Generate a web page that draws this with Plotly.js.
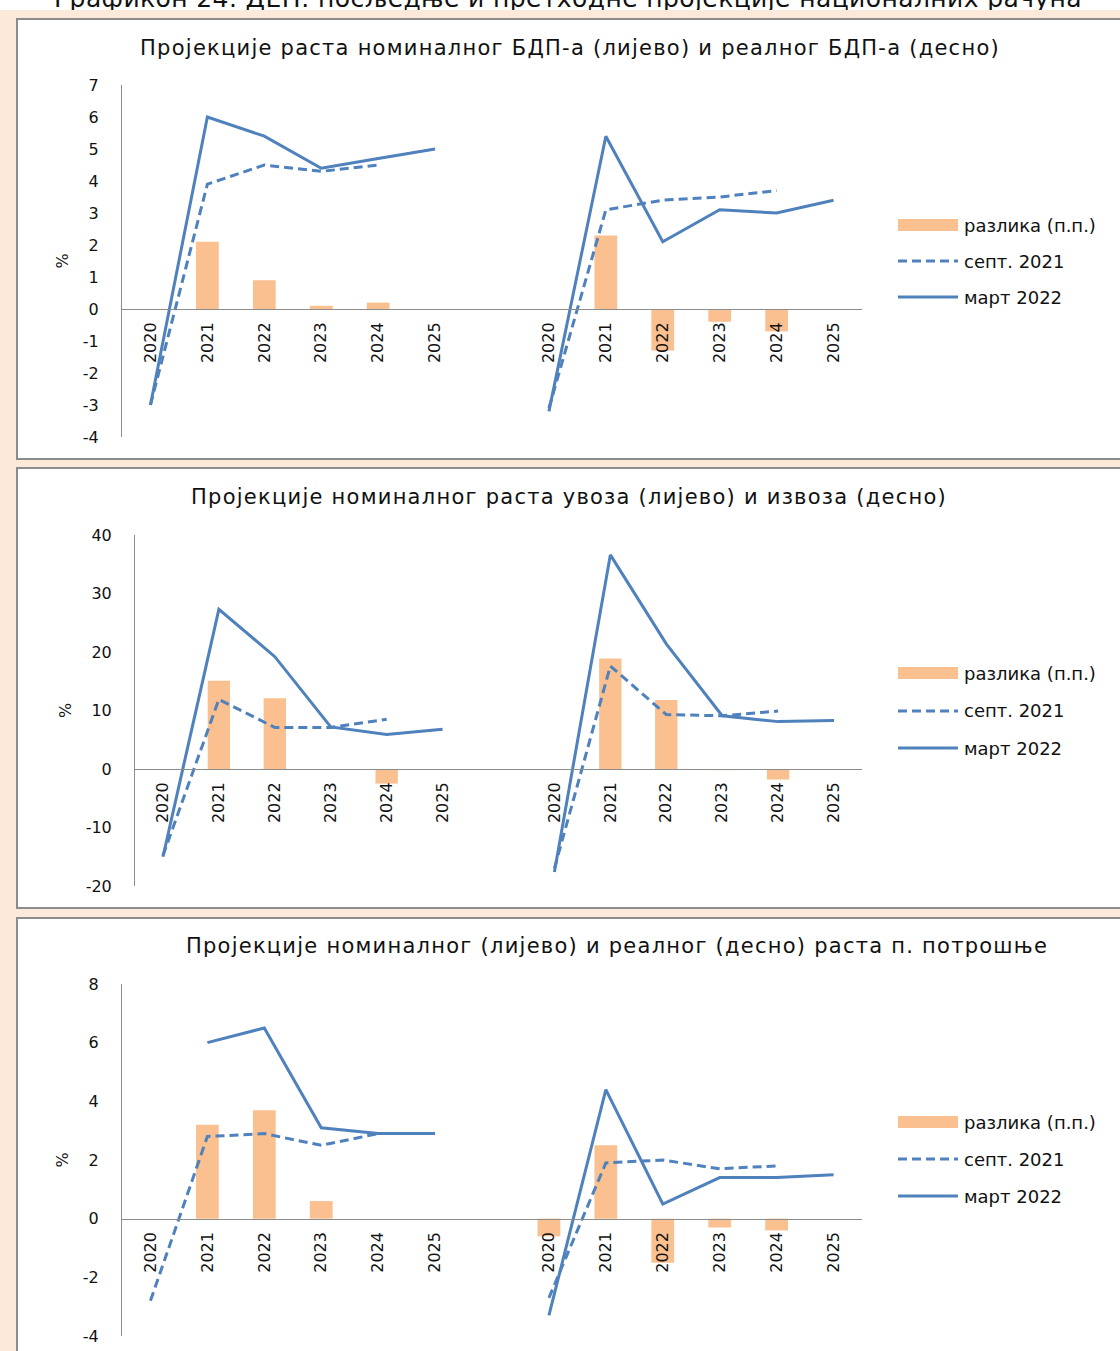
<!DOCTYPE html>
<html><head><meta charset="utf-8">
<script src="https://cdn.plot.ly/plotly-3.0.1.min.js"></script>
<style>
html,body{margin:0;padding:0;background:#fff;width:1120px;height:1351px;overflow:hidden;position:relative;font-family:"DejaVu Sans",sans-serif;}
#top{position:absolute;left:0;top:-14px;width:1136px;text-align:center;font-size:25px;line-height:25px;letter-spacing:0.4px;white-space:nowrap;color:#111;}
#bg{position:absolute;left:0;top:10px;width:1120px;height:1341px;background:#fde9d9;}
.panel{position:absolute;left:16px;width:1110px;background:#fff;border:2px solid #8c8c8c;box-sizing:border-box;overflow:hidden;}
.gtitle{letter-spacing:1.25px;}
</style></head>
<body>
<div id="top">Графикон 24. ДЕП: посљедње и претходне пројекције националних рачуна</div>
<div id="bg"></div>
<div class="panel" style="top:18px;height:442px;"><div id="p1"></div></div>
<div class="panel" style="top:467px;height:442px;"><div id="p2"></div></div>
<div class="panel" style="top:917px;height:440px;"><div id="p3"></div></div>
<script>
// ---------- data ----------
const years = ['2020','2021','2022','2023','2024','2025'];
const legendNames = ['разлика (п.п.)', 'септ. 2021', 'март 2022'];

// Panel 1: nominal GDP (left), real GDP (right)
const gdpNomDiff = [null, 2.1, 0.9, 0.1, 0.2, null];
const gdpNomSep  = [-3.0, 3.9, 4.5, 4.3, 4.5, null];
const gdpNomMar  = [-3.0, 6.0, 5.4, 4.4, 4.7, 5.0];
const gdpRealDiff = [null, 2.3, -1.3, -0.4, -0.7, null];
const gdpRealSep  = [-3.1, 3.1, 3.4, 3.5, 3.7, null];
const gdpRealMar  = [-3.2, 5.4, 2.1, 3.1, 3.0, 3.4];

// Panel 2: imports (left), exports (right)
const impDiff = [null, 15.1, 12.1, 0.0, -2.5, null];
const impSep  = [-14.8, 11.9, 7.1, 7.1, 8.5, null];
const impMar  = [-15.0, 27.3, 19.2, 7.2, 5.9, 6.8];
const expDiff = [null, 18.9, 11.8, -0.2, -1.8, null];
const expSep  = [-17.0, 17.6, 9.3, 9.1, 9.9, null];
const expMar  = [-17.6, 36.6, 21.4, 9.1, 8.1, 8.3];

// Panel 3: nominal (left), real (right) private consumption
const consNomDiff = [null, 3.2, 3.7, 0.6, 0.0, null];
const consNomSep  = [-2.8, 2.8, 2.9, 2.5, 2.9, null];
const consNomMar  = [null, 6.0, 6.5, 3.1, 2.9, 2.9];
const consRealDiff = [-0.6, 2.5, -1.5, -0.3, -0.4, null];
const consRealSep  = [-2.7, 1.9, 2.0, 1.7, 1.8, null];
const consRealMar  = [-3.3, 4.4, 0.5, 1.4, 1.4, 1.5];

const titles = [
  'Пројекције раста номиналног БДП-а (лијево) и реалног БДП-а (десно)',
  'Пројекције номиналног раста увоза (лијево) и извоза (десно)',
  'Пројекције номиналног (лијево) и реалног (десно) раста п. потрошње'
];

// ---------- styles ----------
const BAR = '#fac08f', BLUE = '#4f81bd', AX = '#8c8c8c';
const FONT = '"DejaVu Sans", Verdana, sans-serif';
const DASH = '9px,5px';

function build(id, o) {
  const W = 1106, H = o.H;
  const leftIdx = years.map((_, i) => i);
  const rightIdx = years.map((_, i) => i + years.length + 1);
  const gapIdx = [years.length];
  const xAll = leftIdx.concat(gapIdx, rightIdx);
  const plotW = W - o.l - o.r, plotH = H - o.t - o.b;
  const px = p => (p - o.ox - o.l) / plotW;
  const py = p => (o.oy + o.t + plotH - p) / plotH;

  const yTicks = [];
  for (let v = o.yr[0]; v <= o.yr[1]; v += o.dtick) yTicks.push(v);

  const traces = [
    {type:'bar', x: leftIdx.concat(rightIdx), y: o.diffL.concat(o.diffR),
     marker:{color:BAR}, showlegend:false, hoverinfo:'skip'},
    {type:'scatter', mode:'lines', x:xAll, y:o.sepL.concat([null], o.sepR), connectgaps:false,
     line:{color:BLUE, width:3, dash:DASH}, showlegend:false},
    {type:'scatter', mode:'lines', x:xAll, y:o.marL.concat([null], o.marR), connectgaps:false,
     line:{color:BLUE, width:3}, showlegend:false}
  ];

  // manual legend
  const shapes = [], ann = [];
  const lx0 = px(898), lx1 = px(958), tx = px(962);
  shapes.push({type:'rect', xref:'paper', yref:'paper', x0:lx0, x1:lx1,
    y0:py(o.legY[0]+6), y1:py(o.legY[0]-6), fillcolor:BAR, line:{width:0}});
  shapes.push({type:'line', xref:'paper', yref:'paper', x0:lx0, x1:lx1,
    y0:py(o.legY[1]), y1:py(o.legY[1]), line:{color:BLUE, width:3, dash:DASH}});
  shapes.push({type:'line', xref:'paper', yref:'paper', x0:lx0, x1:lx1,
    y0:py(o.legY[2]), y1:py(o.legY[2]), line:{color:BLUE, width:3}});
  legendNames.forEach((n, i) => ann.push({xref:'paper', yref:'paper', x:tx, y:py(o.legY[i]),
    xanchor:'left', yanchor:'middle', text:n, showarrow:false, font:{family:FONT, size:18, color:'#111'}}));

  const layout = {
    width: W, height: H, margin:{l:o.l, r:o.r, t:o.t, b:o.b, pad:0},
    paper_bgcolor:'#fff', plot_bgcolor:'rgba(0,0,0,0)',
    font:{family:FONT, size:16, color:'#111'},
    showlegend:false, bargap:0.6,
    title:{text:o.title, xref:'container', yref:'container', x:(o.tcx - o.ox)/W, y:1-(o.tcy - o.oy)/H,
           xanchor:'center', yanchor:'middle', font:{family:FONT, size:21, color:'#111'}},
    xaxis:{type:'linear', range:[-0.5, xAll.length - 0.5], tickmode:'array',
           tickvals: leftIdx.concat(rightIdx), ticktext: years.concat(years),
           tickangle:-90, ticks:'outside', ticklen:6, tickcolor:'rgba(0,0,0,0)',
           showgrid:false, zeroline:false, showline:true, linecolor:AX, linewidth:1,
           anchor:'free', position:(0 - o.yr[0])/(o.yr[1]-o.yr[0]),
           tickfont:{family:FONT, size:16, color:'#111'}},
    yaxis:{range:o.yr, tickmode:'array', tickvals:yTicks, ticktext:yTicks.map(v => String(v)),
           ticks:'outside', ticklen:19, tickcolor:'rgba(0,0,0,0)',
           showgrid:false, zeroline:false, showline:true, linecolor:AX, linewidth:1,
           tickfont:{family:FONT, size:16, color:'#111'},
           title:{text:'%', standoff:10, font:{family:FONT, size:16, color:'#111'}}},
    shapes: shapes, annotations: ann
  };
  Plotly.newPlot(id, traces, layout, {staticPlot:true, displayModeBar:false});
}

build('p1', {H:438, ox:18, oy:20, l:104, r:262, t:65, b:21, yr:[-4,7], dtick:1,
  title:titles[0], tcx:570, tcy:48, legY:[225,261,297],
  diffL:gdpNomDiff, sepL:gdpNomSep, marL:gdpNomMar, diffR:gdpRealDiff, sepR:gdpRealSep, marR:gdpRealMar});
build('p2', {H:438, ox:18, oy:469, l:117, r:262, t:66, b:21, yr:[-20,40], dtick:10,
  title:titles[1], tcx:569, tcy:497, legY:[673,711,748],
  diffL:impDiff, sepL:impSep, marL:impMar, diffR:expDiff, sepR:expSep, marR:expMar});
build('p3', {H:436, ox:18, oy:919, l:104, r:262, t:65, b:19, yr:[-4,8], dtick:2,
  title:titles[2], tcx:617, tcy:946, legY:[1122,1159,1196],
  diffL:consNomDiff, sepL:consNomSep, marL:consNomMar, diffR:consRealDiff, sepR:consRealSep, marR:consRealMar});
</script>
</body></html>
